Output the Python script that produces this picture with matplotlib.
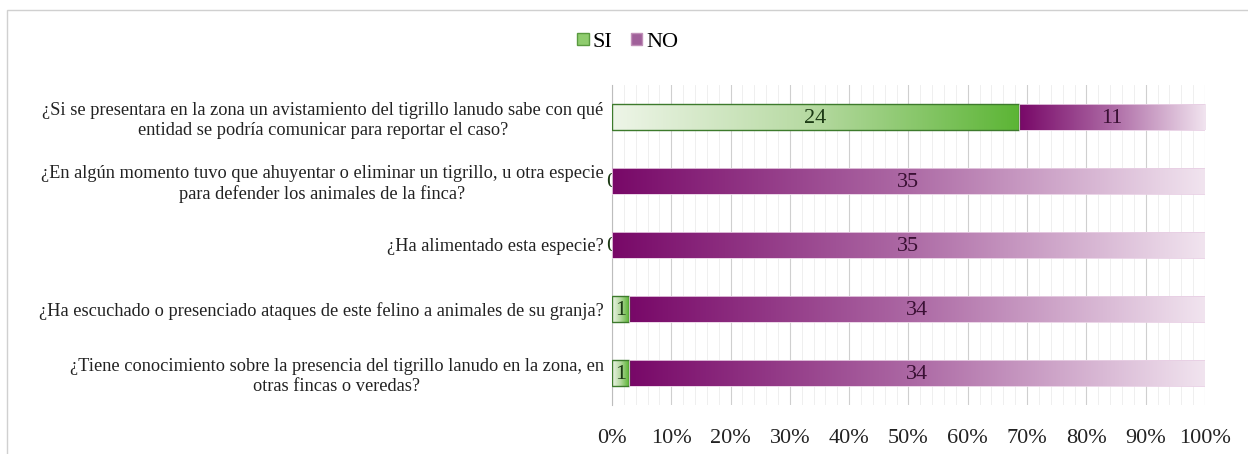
import numpy as np
import matplotlib
matplotlib.use('Agg')
import matplotlib.pyplot as plt
import matplotlib.patches as mpatches
from matplotlib.colors import LinearSegmentedColormap
from matplotlib.ticker import MultipleLocator, PercentFormatter

plt.rcParams['font.family'] = ['Liberation Serif', 'DejaVu Serif']

# Preguntas (de arriba hacia abajo)
preguntas = [
    '¿Si se presentara en la zona un avistamiento del tigrillo lanudo sabe con qué\nentidad se podría comunicar para reportar el caso?',
    '¿En algún momento tuvo que ahuyentar o eliminar un tigrillo, u otra especie\npara defender los animales de la finca?',
    '¿Ha alimentado esta especie?',
    '¿Ha escuchado o presenciado ataques de este felino a animales de su granja?',
    '¿Tiene conocimiento sobre la presencia del tigrillo lanudo en la zona, en\notras fincas o veredas?',
]
si = [24, 0, 0, 1, 1]
no = [11, 35, 35, 34, 34]

si_cmap = LinearSegmentedColormap.from_list('si', ['#eef5e8', '#b5d9a0', '#5cb535'])
no_cmap = LinearSegmentedColormap.from_list('no', ['#780868', '#ad6aa5', '#f1e4ef'])

fig = plt.figure(figsize=(12.48, 4.54), dpi=100)
ax = fig.add_axes([0.4904, 0.108, 0.4751, 0.705])

grad = np.linspace(0, 1, 256).reshape(1, -1)
bar_h = 0.41


def draw_segment(y, left, width, cmap, edge, lw):
    if width <= 0:
        return
    rect = mpatches.Rectangle((left, y - bar_h / 2), width, bar_h,
                              facecolor='none', edgecolor=edge, linewidth=lw, zorder=4)
    ax.add_patch(rect)
    im = ax.imshow(grad, cmap=cmap, aspect='auto', interpolation='bicubic',
                   extent=(left, left + width, y - bar_h / 2, y + bar_h / 2), zorder=3)
    im.set_clip_path(rect)


for i, (s, n) in enumerate(zip(si, no)):
    total = s + n
    ps = s / total * 100
    pn = n / total * 100
    draw_segment(i, 0, ps, si_cmap, '#3d7a2c', 1.0)
    draw_segment(i, ps, pn, no_cmap, '#e8cfe4', 0.6)
    # etiquetas
    ax.text(ps / 2, i + 0.03, str(s), ha='center', va='center', fontsize=16,
            color='#1c3a14', zorder=2 if s == 0 else 5)
    ax.text(ps + pn / 2, i + 0.03, str(n), ha='center', va='center', fontsize=16,
            color='#3a1034', zorder=5)

ax.set_xlim(0, 100)
ax.set_ylim(4.5, -0.5)
ax.set_yticks(range(len(preguntas)))
ax.set_yticklabels(preguntas, fontsize=13.2, multialignment='center', color='#222222')
ax.xaxis.set_major_locator(MultipleLocator(10))
ax.xaxis.set_minor_locator(MultipleLocator(2))
ax.xaxis.set_major_formatter(PercentFormatter(decimals=0))
ax.tick_params(axis='x', labelsize=16, length=0, pad=17, colors='#222222')
ax.tick_params(axis='x', which='minor', length=0)
ax.tick_params(axis='y', length=0, pad=6)
ax.grid(True, axis='x', which='major', color='#cfcfcf', linewidth=0.8, zorder=0)
ax.grid(True, axis='x', which='minor', color='#ececec', linewidth=0.6, zorder=0)
ax.set_axisbelow(True)
for side in ['top', 'right', 'bottom']:
    ax.spines[side].set_visible(False)
ax.spines['left'].set_color('#bdbdbd')

handles = [
    mpatches.Patch(facecolor='#8fcc6e', edgecolor='#5a9a40', label='SI'),
    mpatches.Patch(facecolor='#a0609a', edgecolor='#c090b8', label='NO'),
]
fig.legend(handles=handles, loc='center', bbox_to_anchor=(0.503, 0.907), ncol=2,
           frameon=False, fontsize=16, handlelength=0.5, handleheight=0.5,
           handletextpad=0.2, columnspacing=0.8)

# marco de la figura
fig.add_artist(mpatches.Rectangle((7 / 1248, -0.1), 1.2, 1 - 10 / 454 + 0.1,
                                  transform=fig.transFigure, facecolor='none',
                                  edgecolor='#d0d0d0', linewidth=1))

fig.savefig('out.png', dpi=100)
